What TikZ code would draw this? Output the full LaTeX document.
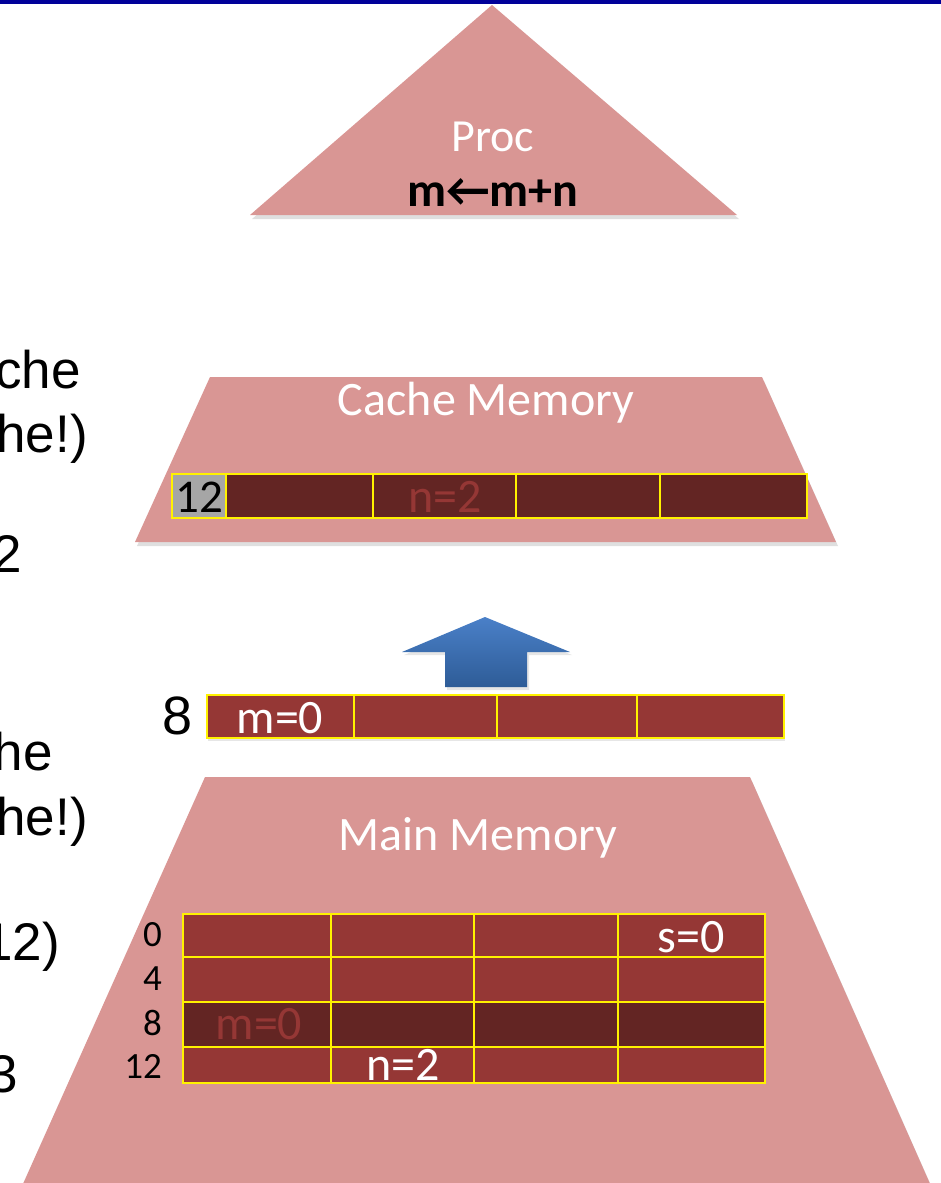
\documentclass[tikz,border=0pt]{standalone}
\usepackage{fontspec}
\setmainfont{Carlito}
\newfontfamily\arialfont{Liberation Sans}
\usetikzlibrary{positioning}
\usetikzlibrary{shadows}

\definecolor{barblue}{RGB}{0,0,153}
\definecolor{pinkfill}{RGB}{217,150,148}
\definecolor{darkcell}{RGB}{99,37,35}
\definecolor{midcell}{RGB}{149,55,53}
\definecolor{tagcell}{RGB}{166,166,166}
\definecolor{arrowtop}{RGB}{74,128,200}
\definecolor{arrowbot}{RGB}{46,92,151}

\tikzset{
  level/.style={fill=pinkfill, drop shadow={opacity=0.25, shadow xshift=2pt, shadow yshift=-4pt}},
  cell/.style={draw=yellow, line width=1.6pt},
  biglabel/.style={text=white, font=\fontsize{48}{48}\selectfont, inner sep=0pt},
  celllabel/.style={font=\fontsize{48}{48}\selectfont, inner sep=0pt},
  addr/.style={font=\fontsize{37}{37}\selectfont, inner sep=0pt, anchor=east},
  cuttext/.style={font=\arialfont\fontsize{53}{53}\selectfont, inner sep=0pt, anchor=base east},
}

\begin{document}
\begin{tikzpicture}[x=1pt,y=-1pt]

\useasboundingbox (0,0) rectangle (941,1183);

% Title bar
\fill[barblue] (0,0) rectangle (941,3.5);

% Left text (cut off)
\node[cuttext] (t1) at (81,388) {che};
\node[cuttext] (t2) at (88,452) {he!)};
\node[cuttext] (t3) at (22,572) {2};
\node[cuttext] (t4) at (53,770) {he};
\node[cuttext] (t5) at (88,835) {he!)};
\node[cuttext] (t6) at (60,960) {12)};
\node[cuttext] (t7) at (18,1092) {3};

% Processor
\path[level] (492,5) -- (737,215) -- (250,215) -- cycle;
\node[biglabel, font=\fontsize{46}{46}\selectfont] (proc) at (493,137) {Proc};
\node[font=\bfseries\fontsize{48}{48}\selectfont, inner sep=0pt] (op) at (493,193) {m←m+n};

% Cache
\path[level] (210,377) -- (762,377) -- (836,542) -- (135,542) -- cycle;
\node[biglabel] (cache) at (486,403) {Cache Memory};
\draw[cell, fill=tagcell] (172,474) rectangle (226,518);
\node[celllabel, font=\fontsize{47}{47}\selectfont] (tag) at (199,497) {12};
\foreach \xa/\xb in {226/373,373/516,516/660,660/807}
  \draw[cell, fill=darkcell] (\xa,474) rectangle (\xb,518);
\node[celllabel, text=midcell] (cn) at (445,497) {n=2};

% Block arrow
\shade[top color=arrowtop, bottom color=arrowbot, drop shadow={opacity=0.2, shadow xshift=2pt, shadow yshift=-3pt}]
  (485,617) -- (570,652) -- (527,652) -- (527,687) -- (445,687) -- (445,652) -- (402,652) -- cycle;

% Fetched block
\node[font=\arialfont\fontsize{54}{54}\selectfont, inner sep=0pt, anchor=east] (blk) at (193,716) {8};
\foreach \xa/\xb in {207/354,354/497,497/637,637/784}
  \draw[cell, fill=midcell, drop shadow={opacity=0.2, shadow xshift=1pt, shadow yshift=-3pt}] (\xa,695) rectangle (\xb,738);
\node[celllabel, text=white] (bm) at (280,718) {m=0};

% Main memory
\path[level] (205,777) -- (750,777) -- (935,1195) -- (18,1195) -- cycle;
\node[biglabel] (main) at (478,838) {Main Memory};

\foreach \ya/\yb/\c in {914/957/midcell,957/1002/midcell,1002/1047/darkcell,1047/1083/midcell}
  \foreach \xa/\xb in {183/331,331/474,474/618,618/765}
    \draw[cell, fill=\c] (\xa,\ya) rectangle (\xb,\yb);

\node[addr] (a0) at (162,935) {0};
\node[addr] (a4) at (162,979) {4};
\node[addr] (a8) at (162,1023) {8};
\node[addr] (a12) at (162,1066) {12};

\node[celllabel, text=white] (ms) at (691,937) {s=0};
\node[celllabel, text=midcell] (mm) at (259,1024) {m=0};
\node[celllabel, text=white] (mn) at (403,1065) {n=2};

\end{tikzpicture}
\end{document}
